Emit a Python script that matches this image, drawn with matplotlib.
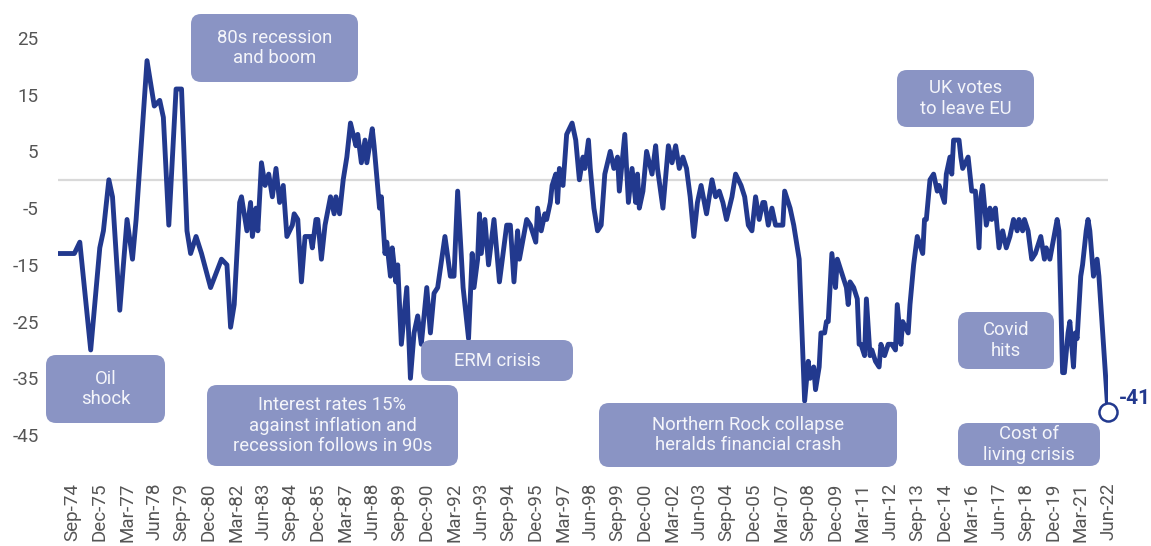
import matplotlib
matplotlib.use("Agg")
import matplotlib.pyplot as plt
from matplotlib.patches import FancyBboxPatch

# GfK consumer confidence index
# obs = month number in the series (0 = first month shown), cci = index value
obs = [0, 9, 12, 18, 23, 25, 28, 30, 34, 38,
       41, 43, 49, 51, 53, 56, 58, 61, 65, 68,
       71, 73, 76, 79, 84, 90, 93, 95, 97, 100,
       101, 104, 106, 107, 109, 110, 112, 114, 116, 118,
       120, 122, 124, 126, 129, 130, 132, 134, 136, 139,
       140, 142, 143, 145, 147, 150, 152, 153, 155, 157,
       159, 161, 164, 165, 167, 169, 170, 173, 174, 177,
       178, 180, 181, 183, 184, 186, 187, 189, 192, 194,
       196, 198, 200, 203, 205, 207, 209, 213, 216, 218,
       220, 223, 226, 228, 229, 231, 232, 233, 235, 237,
       240, 243, 247, 249, 251, 253, 254, 258, 260, 263,
       264, 266, 268, 269, 271, 272, 274, 275, 276, 278,
       280, 283, 285, 287, 289, 290, 292, 293, 295, 297,
       299, 301, 304, 306, 308, 309, 312, 314, 316, 318,
       319, 320, 322, 324, 327, 329, 330, 333, 336, 338,
       340, 342, 344, 346, 348, 350, 352, 354, 357, 360,
       362, 364, 366, 368, 371, 373, 376, 378, 380, 382,
       384, 386, 388, 389, 391, 393, 395, 399, 400, 402,
       403, 405, 407, 408, 411, 413, 414, 416, 417, 419,
       420, 422, 423, 424, 426, 428, 429, 432, 434, 435,
       436, 438, 440, 441, 442, 444, 445, 447, 448, 450,
       452, 453, 455, 457, 459, 461, 462, 464, 465, 468,
       469, 471, 473, 474, 476, 477, 478, 480, 482, 484,
       485, 488, 489, 491, 492, 493, 496, 497, 498, 501,
       502, 503, 505, 507, 508, 509, 511, 513, 514, 516,
       518, 520, 522, 524, 526, 528, 529, 531, 532, 534,
       536, 538, 541, 543, 544, 546, 550, 551, 553, 554,
       556, 557, 559, 560, 561, 563, 564, 566, 567, 568,
       570, 572, 573, 578]

cci = [-13, -13, -11, -30, -12, -9, 0, -3, -23, -7,
       -14, -7, 21, 17, 13, 14, 11, -8, 16, 16,
       -9, -13, -10, -13, -19, -14, -15, -26, -22, -4,
       -3, -9, -4, -10, -5, -9, 3, -1, 1, -3,
       2, -4, -1, -10, -8, -6, -7, -18, -10, -10,
       -12, -7, -7, -14, -8, -3, -6, -3, -6, 0,
       4, 10, 6, 8, 3, 7, 3, 9, 6, -5,
       -3, -13, -11, -17, -12, -18, -15, -29, -19, -35,
       -27, -24, -29, -19, -27, -20, -19, -10, -17, -17,
       -2, -19, -28, -13, -19, -14, -6, -13, -7, -15,
       -7, -18, -8, -8, -18, -9, -14, -7, -8, -11,
       -5, -9, -6, -7, -4, -1, 1, -4, 2, -1,
       8, 10, 7, 0, 4, 2, 7, 2, -5, -9,
       -8, 1, 5, 2, 4, -2, 8, -4, 2, -4,
       1, -5, -2, 5, 1, 6, 2, -5, 6, 3,
       6, 2, 4, 2, -3, -10, -4, -1, -6, 0,
       -3, -2, -4, -7, -3, 1, -1, -3, -8, -9,
       -3, -7, -4, -4, -8, -5, -8, -8, -2, -4,
       -5, -8, -12, -14, -39, -32, -35, -33, -37, -33,
       -27, -27, -25, -25, -13, -19, -14, -17, -19, -22,
       -18, -19, -21, -29, -29, -31, -21, -31, -30, -32,
       -33, -29, -31, -29, -29, -30, -22, -29, -25, -27,
       -22, -15, -10, -11, -13, -7, -7, 0, 1, -2,
       -1, -4, 1, 4, 1, 7, 7, 4, 2, 4,
       1, -2, -2, -12, -3, -1, -8, -5, -7, -5,
       -12, -9, -12, -10, -7, -9, -7, -9, -7, -9,
       -14, -13, -10, -14, -12, -14, -7, -9, -34, -34,
       -27, -25, -33, -27, -28, -17, -15, -9, -7, -9,
       -17, -14, -17, -41]

# x labels, one every 15 observations starting at obs 8
tick_labels = ['Sep-74', 'Dec-75', 'Mar-77', 'Jun-78', 'Sep-79', 'Dec-80', 'Mar-82',
               'Jun-83', 'Sep-84', 'Dec-85', 'Mar-87', 'Jun-88', 'Sep-89', 'Dec-90',
               'Mar-92', 'Jun-93', 'Sep-94', 'Dec-95', 'Mar-97', 'Jun-98', 'Sep-99',
               'Dec-00', 'Mar-02', 'Jun-03', 'Sep-04', 'Dec-05', 'Mar-07', 'Sep-08',
               'Dec-09', 'Mar-11', 'Jun-12', 'Sep-13', 'Dec-14', 'Mar-16', 'Jun-17',
               'Sep-18', 'Dec-19', 'Mar-21', 'Jun-22']
y_ticks = [25, 15, 5, -5, -15, -25, -35, -45]

# event boxes: text, left, top, width, height (pixels from top-left)
events = [
    ("80s recession\nand boom", 191, 14, 167, 68),
    ("Oil\nshock", 46, 355, 119, 68),
    ("Interest rates 15%\nagainst inflation and\nrecession follows in 90s", 207, 385, 251, 81),
    ("ERM crisis", 421, 340, 152, 41),
    ("Northern Rock collapse\nheralds financial crash", 599, 403, 298, 64),
    ("UK votes\nto leave EU", 897, 70, 137, 57),
    ("Covid\nhits", 958, 312, 96, 57),
    ("Cost of\nliving crisis", 958, 423, 142, 43),
]

assert len(obs) == len(cci)

line_col = '#22398e'
box_col = '#8a94c4'
plt.rcParams['font.family'] = ['Roboto', 'DejaVu Sans']

W, H = 1151, 546
fig = plt.figure(figsize=(W / 100, H / 100), dpi=100)
ax = fig.add_axes([58 / W, 1 - 463.4 / H, 1050 / W, (463.4 - 9.6) / H])

ax.axhline(0, color='#d9d9d9', lw=1.6, zorder=1)
ax.plot(obs, cci, color=line_col, lw=3.5, solid_joinstyle='round',
        solid_capstyle='round', zorder=3)

# end point marker and label
ax.plot(obs[-1], cci[-1], 'o', ms=13, mfc='white', mec=line_col, mew=1.8,
        zorder=4, clip_on=False)
ax.annotate(f"{cci[-1]}", (obs[-1], cci[-1]), xytext=(8, 10), textcoords='offset points',
            color=line_col, fontsize=15, fontweight='bold', ha='left', va='center')

ax.set_xlim(0, obs[-1])
ax.set_ylim(-50, 30)
ax.set_yticks(y_ticks)
ax.set_yticklabels([str(v) for v in y_ticks])
ax.set_xticks([8 + 15 * i for i in range(len(tick_labels))])
ax.set_xticklabels(tick_labels, rotation=90)
ax.tick_params(axis='both', length=0, labelsize=13.5, colors='#555555')
ax.tick_params(axis='y', pad=14)
ax.tick_params(axis='x', pad=14)
for s in ax.spines.values():
    s.set_visible(False)

# annotation boxes in figure inches
for text, x0, y0, w, h in events:
    left = x0 / 100
    bottom = (H - y0 - h) / 100
    box = FancyBboxPatch((left, bottom), w / 100, h / 100,
                         boxstyle="round,pad=0,rounding_size=0.1",
                         transform=fig.dpi_scale_trans, facecolor=box_col,
                         edgecolor='none', zorder=5)
    fig.patches.append(box)
    fig.text(left + w / 200, bottom + h / 200, text, transform=fig.dpi_scale_trans,
             ha='center', va='center', color='#f4f5fa', fontsize=13.3,
             linespacing=1.2, zorder=6)

fig.savefig('out.png', dpi=100)
